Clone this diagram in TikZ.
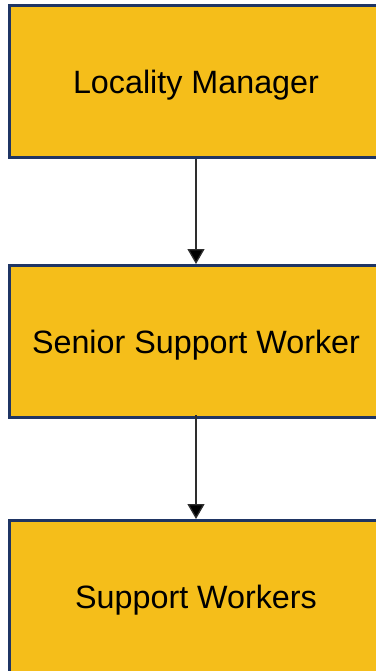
\documentclass[tikz,border=0pt]{standalone}
\usepackage{fontspec}
\setmainfont{Liberation Sans}
\usetikzlibrary{arrows.meta}
\definecolor{boxfill}{HTML}{F5BE1A}
\definecolor{boxline}{HTML}{1F3564}
\definecolor{arrowc}{HTML}{2E2E2E}
\begin{document}
\begin{tikzpicture}[x=1pt,y=-1pt,
  rolebox/.style={draw=boxline, fill=boxfill, line width=3pt,
    minimum width=373pt, minimum height=152pt, inner sep=0pt,
    text depth=0pt,
    font=\fontsize{32.3pt}{38pt}\selectfont, text=black},
  link/.style={draw=arrowc, line width=1.3pt,
    -{Triangle[length=15pt,width=17pt,fill=black]}}]
\useasboundingbox (0,0) rectangle (375,671);
\node[rolebox] (lm) at (196,81.5) {Locality Manager};
\node[rolebox] (ssw) at (196,341.5) {Senior Support Worker};
\node[rolebox] (sw) at (196,596.5) {Support Workers};
\draw[link] (lm.south) -- (ssw.north);
\draw[link, shorten <=-4pt] (ssw.south) -- (sw.north);
\end{tikzpicture}
\end{document}
